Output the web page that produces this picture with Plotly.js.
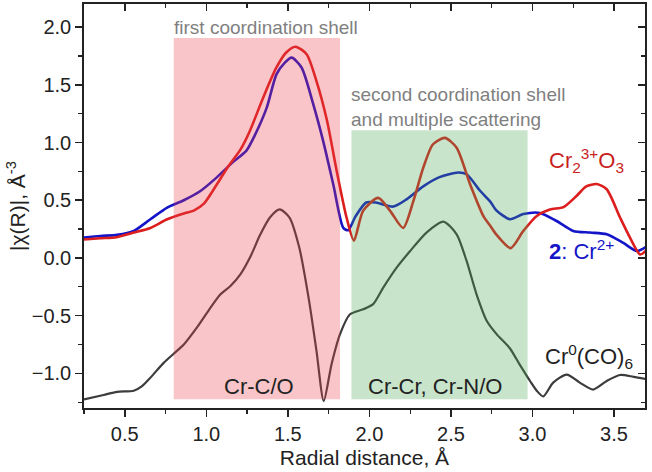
<!DOCTYPE html>
<html>
<head>
<meta charset="utf-8">
<script src="https://cdn.plot.ly/plotly-3.0.1.min.js"></script>
<style>
html,body{margin:0;padding:0;background:#fff;}
#chart{width:652px;height:472px;}
</style>
</head>
<body>
<div id="chart"></div>
<script>
// Cr2(3+)O3 reference (red)
const redR = [0.25,0.35,0.45,0.555,0.657,0.76,0.862,0.923,0.985,1.066,1.128,1.21,1.267,1.349,1.43,1.49,1.547,1.615,1.676,1.74,1.80,1.86,1.905,1.962,2.054,2.126,2.207,2.269,2.33,2.39,2.463,2.535,2.617,2.70,2.74,2.78,2.866,2.944,3.026,3.107,3.19,3.27,3.33,3.394,3.455,3.537,3.598,3.66,3.70];
const redChi = [0.16,0.17,0.18,0.22,0.26,0.335,0.385,0.41,0.47,0.64,0.78,0.94,1.10,1.39,1.65,1.78,1.83,1.765,1.53,1.19,0.75,0.35,0.15,0.41,0.52,0.41,0.26,0.49,0.78,0.985,1.04,0.955,0.64,0.36,0.28,0.20,0.085,0.234,0.364,0.42,0.44,0.537,0.62,0.64,0.595,0.35,0.176,0.03,0.07];

// 2: Cr(2+) (blue)
const blueR = [0.25,0.35,0.453,0.555,0.657,0.76,0.862,0.964,1.066,1.163,1.246,1.30,1.37,1.43,1.48,1.523,1.584,1.656,1.717,1.778,1.84,1.87,1.915,1.98,2.04,2.146,2.23,2.33,2.43,2.545,2.596,2.68,2.74,2.78,2.862,2.944,3.046,3.148,3.25,3.353,3.455,3.557,3.64,3.70];
const blueChi = [0.176,0.19,0.20,0.234,0.335,0.436,0.50,0.58,0.70,0.83,0.93,1.07,1.30,1.59,1.69,1.735,1.65,1.33,1.01,0.64,0.26,0.24,0.36,0.48,0.48,0.445,0.51,0.62,0.70,0.74,0.725,0.58,0.49,0.41,0.335,0.38,0.39,0.32,0.234,0.22,0.205,0.13,0.06,0.10];

// Cr(0)(CO)6 reference (dark grey)
const blackR = [0.25,0.37,0.453,0.555,0.606,0.657,0.74,0.80,0.862,0.944,1.026,1.087,1.148,1.21,1.27,1.33,1.39,1.45,1.51,1.57,1.63,1.676,1.72,1.768,1.82,1.88,1.962,2.023,2.085,2.167,2.25,2.35,2.453,2.535,2.596,2.657,2.72,2.78,2.86,2.92,2.985,3.026,3.066,3.127,3.21,3.29,3.373,3.455,3.537,3.62,3.70];
const blackChi = [-1.225,-1.187,-1.16,-1.15,-1.11,-1.037,-0.907,-0.83,-0.75,-0.60,-0.43,-0.315,-0.243,-0.14,0.01,0.20,0.35,0.42,0.35,0.09,-0.37,-0.81,-1.24,-0.92,-0.66,-0.49,-0.445,-0.40,-0.257,-0.084,0.06,0.22,0.315,0.205,-0.026,-0.315,-0.546,-0.66,-0.78,-0.92,-1.066,-1.15,-1.20,-1.08,-1.01,-1.08,-1.14,-1.066,-1.014,-1.03,-1.05];

// Shaded regions [x0, x1, y0, y1]
const shell1 = [0.80, 1.82, -1.225, 1.905];
const shell2 = [1.89, 2.97, -1.225, 1.107];

const xRange = [0.25, 3.69];
const yRange = [-1.30, 2.20];

const FONT = 'Arial, "Liberation Sans", sans-serif';
const INK = '#222222';

const traces = [
  {x: blackR, y: blackChi, mode: 'lines', line: {color: '#3c3c3c', width: 2.2, shape: 'spline', smoothing: 0.7}, hoverinfo: 'skip', showlegend: false},
  {x: blueR, y: blueChi, mode: 'lines', line: {color: '#1414c8', width: 2.6, shape: 'spline', smoothing: 0.7}, hoverinfo: 'skip', showlegend: false},
  {x: redR, y: redChi, mode: 'lines', line: {color: '#dc1e1e', width: 2.6, shape: 'spline', smoothing: 0.7}, hoverinfo: 'skip', showlegend: false},
  {x: [], y: [], xaxis: 'x2', yaxis: 'y', showlegend: false, hoverinfo: 'skip'},
  {x: [], y: [], xaxis: 'x', yaxis: 'y2', showlegend: false, hoverinfo: 'skip'}
];

const layout = {
  width: 652, height: 472,
  margin: {l: 84, r: 7, t: 4, b: 64},
  paper_bgcolor: '#ffffff', plot_bgcolor: '#ffffff',
  font: {family: FONT, color: INK},
  showlegend: false,
  xaxis: {
    range: xRange, dtick: 0.5, tick0: 0, ticks: 'outside', ticklen: 7, tickwidth: 1.5, tickcolor: INK,
    showgrid: false, zeroline: false, showline: true, linecolor: INK, linewidth: 1.8, mirror: true,
    tickfont: {size: 20, color: INK, family: FONT}, tickformat: '.1f',
    minor: {ticks: 'outside', ticklen: 4, tickwidth: 1.2, tickcolor: INK, dtick: 0.25, tick0: 0, showgrid: false},
    title: {text: 'Radial distance, Å', font: {size: 21, color: INK, family: FONT}, standoff: 6}
  },
  yaxis: {
    range: yRange, dtick: 0.5, tick0: 0, ticks: 'outside', ticklen: 7, tickwidth: 1.5, tickcolor: INK,
    showgrid: false, zeroline: false, showline: true, linecolor: INK, linewidth: 1.8, mirror: true,
    tickfont: {size: 20, color: INK, family: FONT}, tickformat: '.1f',
    minor: {ticks: 'outside', ticklen: 4, tickwidth: 1.2, tickcolor: INK, dtick: 0.25, tick0: 0, showgrid: false},
    title: {text: '|χ(R)|, Å<sup>-3</sup>', font: {size: 21, color: INK, family: FONT}, standoff: 0}
  },
  xaxis2: {
    overlaying: 'x', side: 'top', anchor: 'y', range: xRange, dtick: 0.5, tick0: 0,
    ticks: 'inside', ticklen: 7, tickwidth: 1.5, tickcolor: INK, showticklabels: false,
    showgrid: false, zeroline: false, showline: false,
    minor: {ticks: 'inside', ticklen: 4, tickwidth: 1.2, tickcolor: INK, dtick: 0.25, tick0: 0, showgrid: false}
  },
  yaxis2: {
    overlaying: 'y', side: 'right', anchor: 'x', range: yRange, dtick: 0.5, tick0: 0,
    ticks: 'inside', ticklen: 7, tickwidth: 1.5, tickcolor: INK, showticklabels: false,
    showgrid: false, zeroline: false, showline: false,
    minor: {ticks: 'inside', ticklen: 4, tickwidth: 1.2, tickcolor: INK, dtick: 0.25, tick0: 0, showgrid: false}
  },
  shapes: [
    {type: 'rect', xref: 'x', yref: 'y', x0: shell1[0], x1: shell1[1], y0: shell1[2], y1: shell1[3],
     fillcolor: 'rgb(235,62,72)', opacity: 0.3, line: {width: 0}, layer: 'above'},
    {type: 'rect', xref: 'x', yref: 'y', x0: shell2[0], x1: shell2[1], y0: shell2[2], y1: shell2[3],
     fillcolor: 'rgb(72,165,82)', opacity: 0.3, line: {width: 0}, layer: 'above'}
  ],
  annotations: [
    {text: 'first coordination shell', x: 0.80, y: 2.0, xref: 'x', yref: 'y', xanchor: 'left', yanchor: 'middle',
     showarrow: false, xshift: -2, font: {size: 19, color: '#7f7f7f', family: FONT}},
    {text: 'second coordination shell<br>and multiple scattering', x: 1.89, y: 1.304, xref: 'x', yref: 'y',
     xanchor: 'left', yanchor: 'middle', align: 'left', showarrow: false, xshift: -2,
     font: {size: 19, color: '#7f7f7f', family: FONT}},
    {text: 'Cr-C/O', x: 1.32, y: -1.11, xref: 'x', yref: 'y', showarrow: false, font: {size: 22, color: INK, family: FONT}},
    {text: 'Cr-Cr, Cr-N/O', x: 2.40, y: -1.11, xref: 'x', yref: 'y', showarrow: false, font: {size: 22, color: INK, family: FONT}},
    {text: 'Cr<sub>2</sub><sup>3+</sup>O<sub>3</sub>', x: 3.33, y: 0.84, xref: 'x', yref: 'y', showarrow: false,
     font: {size: 22, color: '#c81e1e', family: FONT}},
    {text: '<b>2</b>: Cr<sup>2+</sup>', x: 3.30, y: 0.07, xref: 'x', yref: 'y', showarrow: false,
     font: {size: 22, color: '#1414c8', family: FONT}},
    {text: 'Cr<sup>0</sup>(CO)<sub>6</sub>', x: 3.347, y: -0.85, xref: 'x', yref: 'y', showarrow: false,
     font: {size: 22, color: INK, family: FONT}}
  ]
};

Plotly.newPlot('chart', traces, layout, {staticPlot: true, displayModeBar: false});
</script>
</body>
</html>
